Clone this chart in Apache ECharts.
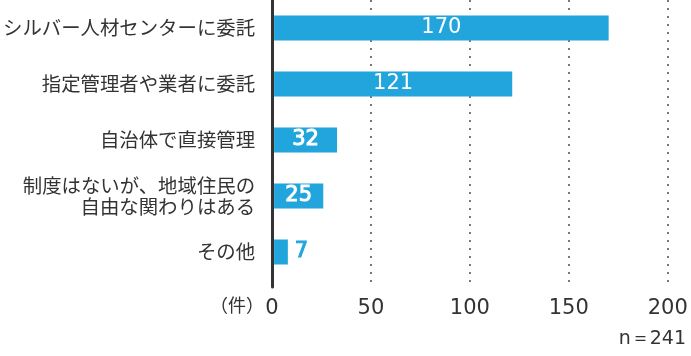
<!DOCTYPE html>
<html>
<head>
<meta charset="utf-8">
<script src="https://cdn.jsdelivr.net/npm/echarts@6/dist/echarts.min.js"></script>
<style>html,body{margin:0;padding:0;background:#fff;}#c{width:691px;height:356px;}</style>
</head>
<body>
<div id="c"></div>
<script>
const categories = [
  'シルバー人材センターに委託',
  '指定管理者や業者に委託',
  '自治体で直接管理',
  '制度はないが、地域住民の\n自由な関わりはある',
  'その他'
];
const values = [170, 121, 32, 25, 7];
const tickValues = [0, 50, 100, 150, 200];
const unitLabel = '（件）';
const nLabel = 'n＝241';

const blue = '#22a5dc';
const chart = echarts.init(document.getElementById('c'));
const gridLeft = 272, gridWidth = 395.7;

const barData = values.map((v, i) => {
  const d = { value: v };
  if (v < 15) {
    d.label = { position: 'right', distance: 7, color: blue, textBorderColor: blue, textBorderWidth: 1 };
  } else if (v < 100) {
    d.label = { textBorderColor: '#fff', textBorderWidth: 1 };
  }
  return d;
});

chart.setOption({
  animation: false,
  grid: [
    { left: gridLeft, top: 0, width: gridWidth, height: 280, containLabel: false },
    { left: gridLeft, top: 0, width: gridWidth, height: 287, containLabel: false }
  ],
  xAxis: [
    { gridIndex: 0, type: 'value', min: 0, max: 200, interval: 50, show: false },
    {
      gridIndex: 1, type: 'value', min: tickValues[0], max: tickValues[tickValues.length - 1], interval: 50,
      axisLine: { show: false }, axisTick: { show: false },
      axisLabel: { color: '#333', fontSize: 21, fontFamily: 'DejaVu Sans', margin: 11 },
      splitLine: { show: true, lineStyle: { color: '#777', width: 2, type: [2, 6] } }
    }
  ],
  yAxis: [
    {
      gridIndex: 0, type: 'category', data: categories, inverse: true,
      axisLine: { show: false }, axisTick: { show: false },
      axisLabel: { color: '#333', fontSize: 19.4, fontFamily: 'Noto Sans CJK JP', margin: 19, lineHeight: 21, align: 'right' }
    },
    {
      gridIndex: 1, type: 'value', min: 0, max: 1,
      axisLine: { show: true, onZero: false, lineStyle: { color: '#333', width: 3 } },
      axisTick: { show: false }, axisLabel: { show: false }, splitLine: { show: false }
    }
  ],
  series: [{
    type: 'bar', xAxisIndex: 0, yAxisIndex: 0,
    data: barData, barWidth: 25,
    itemStyle: { color: blue },
    label: { show: true, position: 'inside', color: '#fff', fontSize: 21, fontFamily: 'DejaVu Sans' }
  }],
  graphic: [
    { type: 'text', left: 210, top: 296, style: { text: unitLabel, fontSize: 18, fontFamily: 'Noto Sans CJK JP', fill: '#333' } },
    { type: 'text', right: 5, top: 330, style: { text: nLabel, fontSize: 19, fontFamily: 'DejaVu Sans', fill: '#333' } }
  ]
});
</script>
</body>
</html>
